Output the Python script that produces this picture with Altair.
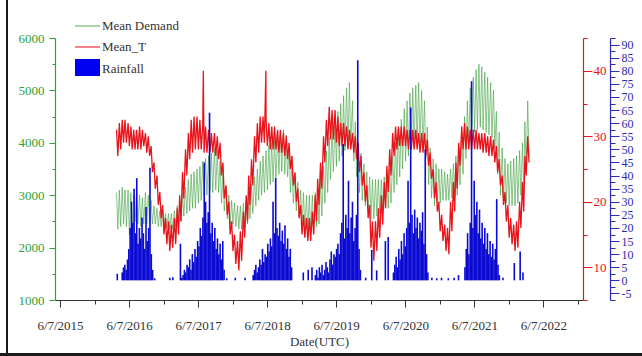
import altair as alt
import pandas as pd

# ---------------- data ----------------
# Half-month readings (1st and 2nd half of each month), Apr 2016 ... Mar 2022.
# Upper / lower envelope of the daily series.
demand_hi = [
    3050, 3100, 3150, 3100, 3100, 3050, 3000, 3050, 3000, 2950, 3050, 3000, 2900, 2800, 2750, 2700, 2700, 2650, 2650, 2650, 2700, 2800, 2900, 3050,
    3150, 3300, 3400, 3450, 3500, 3550, 3650, 3700, 3750, 3800, 3900, 3850, 3650, 3400, 3150, 3000, 2900, 2850, 2800, 2800, 2850, 2950, 3050, 3200,
    3350, 3500, 3650, 3750, 3850, 3950, 4000, 4050, 4150, 4200, 4250, 4150, 3900, 3650, 3400, 3250, 3100, 3050, 3000, 3000, 3000, 3050, 3100, 3300,
    3550, 3850, 4100, 4300, 4450, 4600, 4750, 4900, 5050, 5150, 4800, 4400, 4000, 3800, 3600, 3450, 3350, 3300, 3300, 3300, 3300, 3350, 3350, 3500,
    3750, 4000, 4250, 4450, 4650, 4800, 4950, 5050, 5100, 5150, 5000, 4800, 4300, 3900, 3700, 3600, 3500, 3500, 3450, 3400, 3500, 3600, 3750, 3900,
    4200, 4500, 4800, 5050, 5250, 5400, 5500, 5450, 5350, 5250, 5150, 5000, 4600, 4200, 3900, 3700, 3600, 3650, 3700, 3750, 3850, 4000, 4400, 4800,
]
demand_lo = [
    2350, 2400, 2450, 2400, 2250, 2300, 2500, 2450, 2400, 2450, 2450, 2500, 2450, 2450, 2400, 2400, 2400, 2380, 2350, 2350, 2400, 2450, 2500, 2600,
    2650, 2700, 2750, 2750, 2850, 2900, 3000, 3000, 3100, 3050, 3100, 3050, 2850, 2700, 2550, 2450, 2450, 2400, 2350, 2350, 2400, 2450, 2550, 2650,
    2800, 2900, 3000, 3050, 3100, 3200, 3250, 3300, 3400, 3450, 3400, 3350, 3050, 2850, 2700, 2600, 2450, 2350, 2300, 2300, 2350, 2400, 2450, 2600,
    2850, 3050, 3300, 3450, 3550, 3650, 3750, 3850, 3900, 3950, 3650, 3350, 3050, 2900, 2800, 2700, 2550, 2550, 2600, 2650, 2700, 2750, 2750, 2850,
    3050, 3200, 3350, 3500, 3650, 3750, 3900, 3950, 4000, 4000, 3900, 3700, 3200, 2950, 2800, 2850, 2850, 2900, 2900, 2900, 2950, 3000, 3000, 3200,
    3400, 3700, 3900, 4050, 4200, 4250, 4300, 4250, 4200, 4150, 4100, 3900, 3400, 3000, 2900, 2850, 2800, 2800, 2800, 2850, 3000, 3100, 3400, 3700,
]
temp_hi = [
    31, 32, 32.5, 32.5, 32, 31.5, 31, 31, 31.5, 31, 30.5, 30, 28.5, 26, 24, 21.5, 19.5, 17.5, 17, 16.5, 17.5, 19, 21, 24.5,
    28, 30.5, 32.5, 33, 33, 32.5, 31.5, 31.5, 31, 30.5, 30.5, 30, 29, 26, 22.5, 20, 17, 15, 14, 15.5, 18.5, 21, 24, 26.5,
    30, 32, 33, 33, 32.5, 32, 31.5, 31.5, 31, 31, 30.5, 30, 29, 27, 24.5, 22, 19.5, 18, 17.5, 17.5, 18.5, 21, 23.5, 26,
    30, 32.5, 34.5, 34, 34, 33, 32, 32, 31.5, 31, 30.5, 30, 29, 27, 24.5, 22.5, 19.5, 17, 17, 19, 21, 23, 25.5, 28,
    30.5, 31.5, 31.5, 31.5, 31.5, 31, 31, 31, 31, 30.5, 30.5, 30.5, 29.5, 27.5, 25, 23, 20, 18, 16.5, 16, 20, 23, 26, 29,
    31.5, 32, 31.5, 31, 31, 31, 30.5, 30.5, 30.5, 30, 30, 29.5, 28.5, 26.5, 24, 21.5, 19.5, 17.5, 16.5, 17, 20, 23, 27, 30,
]
temp_lo = [
    27, 28, 29, 29, 28.5, 28, 28, 28, 28, 28.5, 27.5, 27, 24.5, 22, 19.5, 17.5, 15, 13.5, 12.5, 13, 13.5, 15, 17, 20.5,
    24, 26.5, 27.5, 28, 28, 28, 27.5, 27.5, 27.5, 27.5, 27, 26.5, 24, 20.5, 18, 15, 12.5, 10.5, 9.5, 11, 14.5, 17, 19.5, 22.5,
    26, 27.5, 29, 29, 28.5, 28, 28, 28, 27.5, 27.5, 27, 26.5, 25, 22.5, 20, 17.5, 15, 14.5, 14, 14, 15, 17, 19.5, 22,
    26, 28.5, 29.5, 29.5, 29, 28.5, 28.5, 28.5, 28, 28, 27.5, 26.5, 24.5, 22.5, 20, 17.5, 13, 11, 12.5, 14.5, 16.5, 19, 21.5, 24,
    27, 28, 28.5, 28.5, 28.5, 28, 28, 28, 28, 27.5, 27.5, 27, 25.5, 23.5, 20.5, 18.5, 15.5, 14, 12.5, 12, 15.5, 18.5, 22, 25.5,
    28, 28, 28, 28, 28, 28, 28, 27.5, 27.5, 27, 27, 26, 24.5, 22.5, 19.5, 17, 14.5, 13.5, 12.5, 13, 16, 18.5, 24, 26,
]
# two single-day temperature spikes
temp_spike_dates = ["2017-07-04", "2018-05-31"]
temp_spike_values = [40, 40]

# Rainfall: weekly bars through each rainy season (start date -> weekly values)
rain_seasons = {
    "2016-05-01": [3, 5, 6, 4, 8, 12, 20, 30, 22, 35, 18, 39, 14, 20, 16, 24, 18, 12, 28, 15, 20, 43, 10, 4],
    "2017-03-05": [14, 1, 2, 4, 3, 6, 5, 8, 4, 10, 7, 12, 9, 15, 13, 20, 17, 24, 45, 30, 22, 26, 64, 18, 22, 15, 20, 12, 16, 10, 14, 8, 15, 4],
    "2018-03-25": [2, 4, 6, 3, 5, 8, 6, 12, 7, 10, 9, 14, 11, 16, 13, 30, 18, 39, 20, 17, 22, 15, 19, 14, 21, 12, 16, 9, 12, 5],
    "2019-02-17": [2, 4, 1, 5, 3, 6, 2, 4, 7, 5, 3, 8, 11, 6, 10, 9, 12, 14, 10, 18, 22, 52, 16, 25, 20, 38, 18, 24, 30, 15, 20, 25, 84, 12, 4],
    "2020-04-05": [3, 6, 9, 5, 12, 8, 15, 10, 18, 13, 20, 38, 22, 66, 25, 18, 27, 20, 24, 16, 22, 19, 26, 14, 50, 10, 3],
    "2021-04-18": [5, 12, 18, 10, 22, 76, 20, 38, 25, 30, 18, 27, 16, 22, 14, 20, 12, 18, 10, 15, 9, 14, 8, 12, 31, 6, 2],
}
# scattered dry-season rain days
rain_extra_dates = ["2016-04-05", "2016-10-20", "2017-01-08", "2017-01-24", "2017-11-05", "2017-12-20", "2018-02-10",
                    "2018-12-15", "2019-01-10", "2019-01-30", "2019-11-10", "2019-12-12", "2020-01-07", "2020-02-22",
                    "2020-03-08", "2020-10-25", "2020-11-20", "2020-12-15", "2021-01-20", "2021-02-20", "2021-03-15",
                    "2021-11-05", "2022-01-04", "2022-02-04", "2022-02-19"]
rain_extra_values = [2.5, 0.8, 1, 1.2, 0.8, 1, 1, 3, 4, 5, 1, 11.6, 3.8, 15, 16.5, 1, 0.8, 1, 0.8, 1, 2, 1, 6.6, 11, 3]

# axis ticks
x_domain = ["2015-06-07", "2022-12-07"]
x_tick_dates = ["2015-06-07", "2015-12-07", "2016-06-07", "2016-12-07", "2017-06-07", "2017-12-07",
                "2018-06-07", "2018-12-07", "2019-06-07", "2019-12-07", "2020-06-07", "2020-12-07",
                "2021-06-07", "2021-12-07", "2022-06-07", "2022-12-07"]
demand_ticks = [1000, 1500, 2000, 2500, 3000, 3500, 4000, 4500, 5000, 5500, 6000]
temp_ticks = [5, 10, 15, 20, 25, 30, 35, 40, 45]
rain_ticks = [v / 2 for v in range(-15, 186, 5)]  # -7.5 ... 92.5 by 2.5

# ---------------- tables ----------------
month_starts = pd.date_range("2016-04-01", periods=72, freq="MS")


def envelope_table(hi, lo, extra_dates=(), extra_values=()):
    rows = []
    for k in range(len(hi)):
        m = month_starts[k // 2]
        off = 15 * (k % 2)
        rows.append((m + pd.Timedelta(days=off), hi[k]))
        rows.append((m + pd.Timedelta(days=off + 7), lo[k]))
    for d, v in zip(extra_dates, extra_values):
        rows.append((pd.Timestamp(d), v))
    rows.sort(key=lambda r: r[0])
    return pd.DataFrame({"date": [r[0].strftime("%Y-%m-%d") for r in rows],
                         "value": [r[1] for r in rows]})


demand_df = envelope_table(demand_hi, demand_lo)
temp_df = envelope_table(temp_hi, temp_lo, temp_spike_dates, temp_spike_values)

rain_rows = []
for start, vals in rain_seasons.items():
    s = pd.Timestamp(start)
    for i, v in enumerate(vals):
        rain_rows.append(((s + pd.Timedelta(days=7 * i)).strftime("%Y-%m-%d"), v))
for d, v in zip(rain_extra_dates, rain_extra_values):
    rain_rows.append((d, v))
rain_df = pd.DataFrame(rain_rows, columns=["date", "value"])


def ms(d):
    return int(pd.Timestamp(d, tz="UTC").value // 10**6)


# ---------------- styling ----------------
FONT = "Liberation Serif"
GREEN_AX = "#33a033"
GREEN_LINE = "#3c9f3c"
RED = "#e8141c"
BLUE_AX = "#2a2ab4"
BLUE_BAR = "#0a0ad2"
DARK = "#333333"

x_axis = alt.Axis(
    values=[ms(d) for d in x_tick_dates],
    labelExpr="utcmonth(datum.value) == 5 ? utcFormat(datum.value, '%-m/%-d/%Y') : ''",
    tickSize={"condition": {"test": "utcmonth(datum.value) == 5", "value": 7}, "value": 4},
    domainColor=DARK, tickColor=DARK, labelColor=DARK,
    labelFont=FONT, labelFontSize=13, labelPadding=12,
    labelOverlap=False, labelFlush=False,
    title="Date(UTC)", titleFont=FONT, titleFontSize=13, titleFontWeight="normal",
    titleColor=DARK, titlePadding=3, grid=False,
)
x_enc = alt.X("date:T", scale=alt.Scale(type="utc", domain=[ms(x_domain[0]), ms(x_domain[1])]), axis=x_axis)

left_axis = alt.Axis(
    orient="left", values=demand_ticks, format="d",
    labelExpr="datum.value % 1000 == 0 ? datum.label : ''",
    tickSize={"condition": {"test": "datum.value % 1000 == 0", "value": 6}, "value": 3},
    domainColor=GREEN_AX, tickColor=GREEN_AX, labelColor=GREEN_AX,
    labelFont=FONT, labelFontSize=13, labelPadding=5, labelOverlap=False, labelFlush=False,
    title="", grid=False, domainWidth=1.2,
)
red_axis = alt.Axis(
    orient="right", values=temp_ticks, format="d",
    labelExpr="datum.value % 10 == 0 ? datum.label : ''",
    tickSize={"condition": {"test": "datum.value % 10 == 0", "value": 9}, "value": 4},
    domainColor=RED, tickColor=RED, labelColor=RED,
    labelFont=FONT, labelFontSize=13, labelPadding=1, labelOverlap=False, labelFlush=False,
    title="", grid=False, domainWidth=1.2,
)
blue_axis = alt.Axis(
    orient="right", offset=27, values=rain_ticks,
    labelExpr="datum.value % 5 == 0 ? '' + datum.value : ''",
    tickSize={"condition": {"test": "datum.value % 5 == 0", "value": 9}, "value": 5},
    domainColor=BLUE_AX, tickColor=BLUE_AX, labelColor=BLUE_AX,
    labelFont=FONT, labelFontSize=12, labelPadding=2, labelOverlap=False, labelFlush=False,
    title="", grid=False, domainWidth=1.2,
)

demand_layer = alt.Chart(demand_df).mark_line(color=GREEN_LINE, strokeWidth=0.8, opacity=0.75).encode(
    x=x_enc,
    y=alt.Y("value:Q", scale=alt.Scale(domain=[1000, 6000], zero=False, nice=False), axis=left_axis),
)
temp_layer = alt.Chart(temp_df).mark_line(color=RED, strokeWidth=1.3).encode(
    x=x_enc,
    y=alt.Y("value:Q", scale=alt.Scale(domain=[5, 45], zero=False, nice=False), axis=red_axis),
)
rain_layer = alt.Chart(rain_df).mark_bar(color=BLUE_BAR, size=1.6).encode(
    x=x_enc,
    y=alt.Y("value:Q", scale=alt.Scale(domain=[-7.5, 92.5], nice=False), axis=blue_axis),
)

one = pd.DataFrame({"k": [0]})
legend_layers = [
    alt.Chart(one).mark_rule(color=GREEN_LINE, strokeWidth=1.5, opacity=0.6).encode(
        x=alt.value(20), x2=alt.value(45), y=alt.value(-12)),
    alt.Chart(one).mark_text(align="left", baseline="middle", font=FONT, fontSize=13, color=DARK).encode(
        x=alt.value(47), y=alt.value(-12), text=alt.value("Mean Demand")),
    alt.Chart(one).mark_rule(color=RED, strokeWidth=1.5, opacity=0.7).encode(
        x=alt.value(20), x2=alt.value(45), y=alt.value(9)),
    alt.Chart(one).mark_text(align="left", baseline="middle", font=FONT, fontSize=13, color=DARK).encode(
        x=alt.value(47), y=alt.value(9), text=alt.value("Mean_T")),
    alt.Chart(one).mark_rect(color="#0000f0").encode(
        x=alt.value(20), x2=alt.value(45), y=alt.value(21), y2=alt.value(38)),
    alt.Chart(one).mark_text(align="left", baseline="middle", font=FONT, fontSize=13, color=DARK).encode(
        x=alt.value(47), y=alt.value(31), text=alt.value("Rainfall")),
    # frame edges of the screenshot
    alt.Chart(one).mark_rule(color="#1a1a1a", strokeWidth=2).encode(
        x=alt.value(-48), y=alt.value(-38), y2=alt.value(318)),
    alt.Chart(one).mark_rect(color="#1a1a1a").encode(
        x=alt.value(-55), x2=alt.value(587), y=alt.value(315), y2=alt.value(318)),
]

chart = alt.layer(demand_layer, temp_layer, rain_layer, *legend_layers).resolve_scale(
    y="independent"
).properties(
    width=528, height=262,
    padding={"left": 55, "top": 38, "right": 59, "bottom": 56},
    autosize=alt.AutoSizeParams(type="none"),
    background="white",
).configure_view(strokeWidth=0)

chart.save("out.html", embed_options={"renderer": "svg", "actions": False})
